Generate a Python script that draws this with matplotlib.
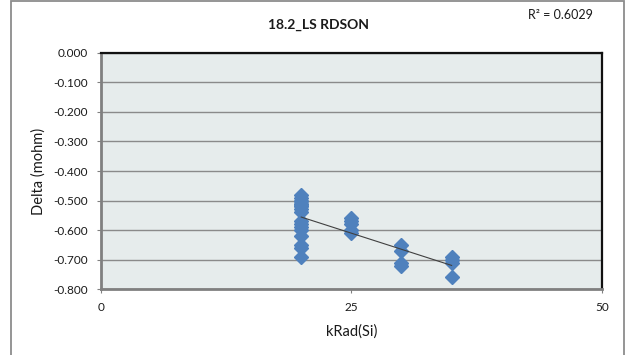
import numpy as np
import matplotlib
matplotlib.use("Agg")
import matplotlib.pyplot as plt
from matplotlib.patches import Rectangle

plt.rcParams['font.family'] = ['Lato', 'DejaVu Sans']

# Delta RDSON readings per dose level (kRad(Si))
dose_20 = [-0.48, -0.49, -0.50, -0.50, -0.51, -0.51, -0.52, -0.52, -0.53, -0.54,
           -0.57, -0.58, -0.59, -0.60, -0.62, -0.65, -0.66, -0.69]
dose_25 = [-0.56, -0.57, -0.58, -0.60, -0.61]
dose_30 = [-0.65, -0.67, -0.71, -0.72]
dose_35 = [-0.69, -0.70, -0.71, -0.76]
dose_levels = [20, 25, 30, 35]

x_ticks = [0, 25, 50]
y_ticks = [0.0, -0.1, -0.2, -0.3, -0.4, -0.5, -0.6, -0.7, -0.8]
title = "18.2_LS RDSON"
r2_label = "R² = 0.6029"

groups = [dose_20, dose_25, dose_30, dose_35]
x = np.concatenate([[d] * len(g) for d, g in zip(dose_levels, groups)]).astype(float)
y = np.concatenate(groups)

fig = plt.figure(figsize=(6.27, 3.55), dpi=100)
fig.patch.set_facecolor('white')

# outer chart frame
frame = Rectangle((11 / 627, -0.1), (624 - 11) / 627, 1.1 - 1.5 / 355,
                  transform=fig.transFigure, fill=False,
                  edgecolor='#8c8c8c', linewidth=1.3, zorder=0)
fig.add_artist(frame)

ax = fig.add_axes([100.7 / 627, 1 - 289.3 / 355, (602 - 100.7) / 627, (289.3 - 52.7) / 355])
ax.set_facecolor('#E6ECEC')

ax.set_xlim(0, 50)
ax.set_ylim(-0.8, 0.0)
ax.set_xticks(x_ticks)
ax.set_xticklabels([str(t) for t in x_ticks])
ax.set_yticks(y_ticks)
ax.set_yticklabels([f"{t:.3f}" if t != 0 else "0.000" for t in y_ticks])

ax.grid(axis='y', color='#8a8a8a', linewidth=1.0)
ax.set_axisbelow(True)

for side in ('top', 'right'):
    ax.spines[side].set_color('#111111')
    ax.spines[side].set_linewidth(1.6)
for side in ('left', 'bottom'):
    ax.spines[side].set_color('#808080')
    ax.spines[side].set_linewidth(2.0)

ax.tick_params(axis='both', direction='out', length=3, width=0.8,
               color='#808080', labelsize=8.5, labelcolor='#1a1a1a')
ax.tick_params(axis='x', pad=6)
ax.tick_params(axis='y', pad=6)

# data points
ax.plot(x, y, linestyle='none', marker='D', markersize=7.3,
        markerfacecolor='#4F81BD', markeredgecolor='#4F81BD', zorder=3)

# linear trendline over the dose range
slope, intercept = np.polyfit(x, y, 1)
xt = np.array([min(dose_levels), max(dose_levels)], dtype=float)
ax.plot(xt, slope * xt + intercept, color='#404040', linewidth=0.8, zorder=4)

ax.set_xlabel("kRad(Si)", fontsize=10.5, color='#1a1a1a', labelpad=8)
ax.set_ylabel("Delta (mohm)", fontsize=10.5, color='#1a1a1a', labelpad=6)

fig.text(318 / 627, 1 - 25 / 355, title, ha='center', va='center',
         fontsize=10, fontweight='bold', color='#1a1a1a')
fig.text(528 / 627, 1 - 15 / 355, r2_label, ha='left', va='center',
         fontsize=9, color='#1a1a1a')

fig.savefig("out.png", dpi=100)
